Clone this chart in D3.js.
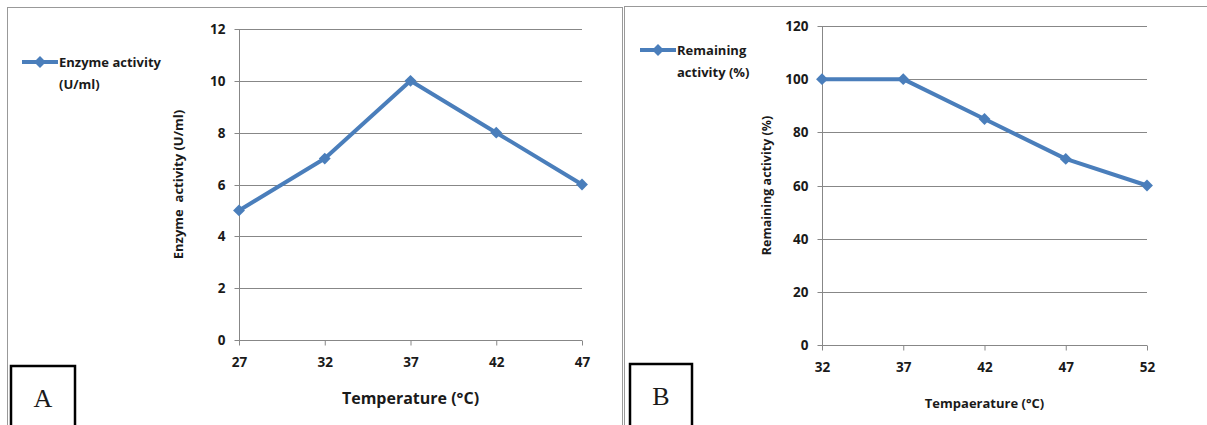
<!DOCTYPE html>
<html>
<head>
<meta charset="utf-8">
<script src="https://cdn.jsdelivr.net/npm/d3@7"></script>
<style>
  body { margin: 0; background: #fff; }
  svg text { font-family: "Open Sans", Lato, sans-serif; font-weight: bold; fill: #1a1a1a; }
</style>
</head>
<body>
<svg id="chart" width="1207" height="425"></svg>
<script>
// --- Datos ---
const tempsA = [27, 32, 37, 42, 47];
const activityA = [5, 7, 10, 8, 6];
const yTicksA = [0, 2, 4, 6, 8, 10, 12];

const tempsB = [32, 37, 42, 47, 52];
const remainingB = [100, 100, 85, 70, 60];
const yTicksB = [0, 20, 40, 60, 80, 100, 120];

const blue = '#4a7ebb';
const grid = '#878787';

const svg = d3.select('#chart');

// marcos de los paneles
svg.append('rect').attr('x', 7.5).attr('y', 7.5).attr('width', 615).attr('height', 440)
  .attr('fill', 'none').attr('stroke', '#999');
svg.append('rect').attr('x', 624.5).attr('y', 6.5).attr('width', 600).attr('height', 440)
  .attr('fill', 'none').attr('stroke', '#999');

function panel(opts) {
  const { xs, ys, yTicks, x0, x1, y0, y1, ytitle, ytitleX, ytitleSize, xtitle, xtitleY, xtitleSize,
          legend, legendX, legendY, letter, box } = opts;
  const x = d3.scaleLinear().domain(d3.extent(xs)).range([x0, x1]);
  const y = d3.scaleLinear().domain(d3.extent(yTicks)).range([y0, y1]);
  const g = svg.append('g');

  // rejilla
  g.selectAll('.grid').data(yTicks.slice(1)).enter().append('line')
    .attr('x1', x0).attr('x2', x1)
    .attr('y1', d => Math.round(y(d)) + 0.5).attr('y2', d => Math.round(y(d)) + 0.5)
    .attr('stroke', grid);

  // eje y
  const ay = g.append('g').attr('transform', `translate(${Math.round(x0) + 0.5},0)`)
    .call(d3.axisLeft(y).tickValues(yTicks).tickSize(5).tickPadding(9).tickFormat(d3.format('d')));
  ay.select('.domain').attr('stroke', grid).attr('d', `M0,${y0 + 5}V${y1}`);
  ay.selectAll('.tick line').attr('stroke', grid);
  ay.selectAll('.tick text').style('font-size', '13.5px').attr('fill', '#1a1a1a');
  ay.selectAll('.tick').attr('transform', d => `translate(0,${Math.round(y(d)) + 0.5})`);

  // eje x
  const ax = g.append('g').attr('transform', `translate(0,${Math.round(y0) + 0.5})`)
    .call(d3.axisBottom(x).tickValues(xs).tickSize(5).tickPadding(12));
  ax.select('.domain').attr('stroke', grid).attr('d', `M${x0},0H${x1}`);
  ax.selectAll('.tick line').attr('stroke', grid);
  ax.selectAll('.tick text').style('font-size', '13.5px').attr('fill', '#1a1a1a');

  // serie
  const pts = xs.map((d, i) => [x(d), y(ys[i])]);
  g.append('path').attr('d', d3.line()(pts)).attr('fill', 'none')
    .attr('stroke', blue).attr('stroke-width', 4).attr('stroke-linejoin', 'round');
  const diamond = d3.symbol().type(d3.symbolDiamond2).size(90);
  g.selectAll('.pt').data(pts).enter().append('path')
    .attr('d', diamond).attr('transform', d => `translate(${d[0]},${d[1]})`).attr('fill', blue);

  // títulos
  g.append('text').attr('transform', `translate(${ytitleX},${(y0 + y1) / 2}) rotate(-90)`)
    .attr('text-anchor', 'middle').attr('dy', '0.35em').style('font-size', ytitleSize)
    .style('white-space', 'pre').text(ytitle);
  g.append('text').attr('x', (x0 + x1) / 2).attr('y', xtitleY).attr('text-anchor', 'middle')
    .attr('dy', '0.35em').style('font-size', xtitleSize).text(xtitle);

  // leyenda
  g.append('line').attr('x1', legendX).attr('x2', legendX + 36).attr('y1', legendY).attr('y2', legendY)
    .attr('stroke', blue).attr('stroke-width', 4);
  g.append('path').attr('d', diamond).attr('transform', `translate(${legendX + 18},${legendY})`).attr('fill', blue);
  legend.forEach((t, i) => {
    g.append('text').attr('x', legendX + 37).attr('y', legendY + i * 22).attr('dy', '0.35em')
      .style('font-size', '13px').text(t);
  });

  // recuadro con la letra
  g.append('rect').attr('x', box[0]).attr('y', box[1]).attr('width', box[2]).attr('height', box[3])
    .attr('fill', '#fff').attr('stroke', '#000').attr('stroke-width', 2.5);
  g.append('text').attr('x', box[0] + box[2] / 2).attr('y', box[1] + 32).attr('text-anchor', 'middle')
    .attr('dy', '0.35em')
    .style('font-family', '"Liberation Serif", "DejaVu Serif", serif').style('font-weight', 'normal')
    .style('font-size', '26px').text(letter);
}

panel({
  xs: tempsA, ys: activityA, yTicks: yTicksA,
  x0: 239, x1: 582, y0: 340, y1: 29,
  ytitle: 'Enzyme  activity (U/ml)', ytitleX: 178, ytitleSize: '13px',
  xtitle: 'Temperature (°C)', xtitleY: 398, xtitleSize: '16px',
  legend: ['Enzyme activity', '(U/ml)'], legendX: 22, legendY: 62,
  letter: 'A', box: [11, 366, 64, 62]
});

panel({
  xs: tempsB, ys: remainingB, yTicks: yTicksB,
  x0: 822, x1: 1147, y0: 345, y1: 26,
  ytitle: 'Remaining activity (%)', ytitleX: 767, ytitleSize: '12.5px',
  xtitle: 'Tempaerature (°C)', xtitleY: 403, xtitleSize: '13px',
  legend: ['Remaining', 'activity (%)'], legendX: 640, legendY: 50,
  letter: 'B', box: [630, 364, 62, 64]
});
</script>
</body>
</html>
